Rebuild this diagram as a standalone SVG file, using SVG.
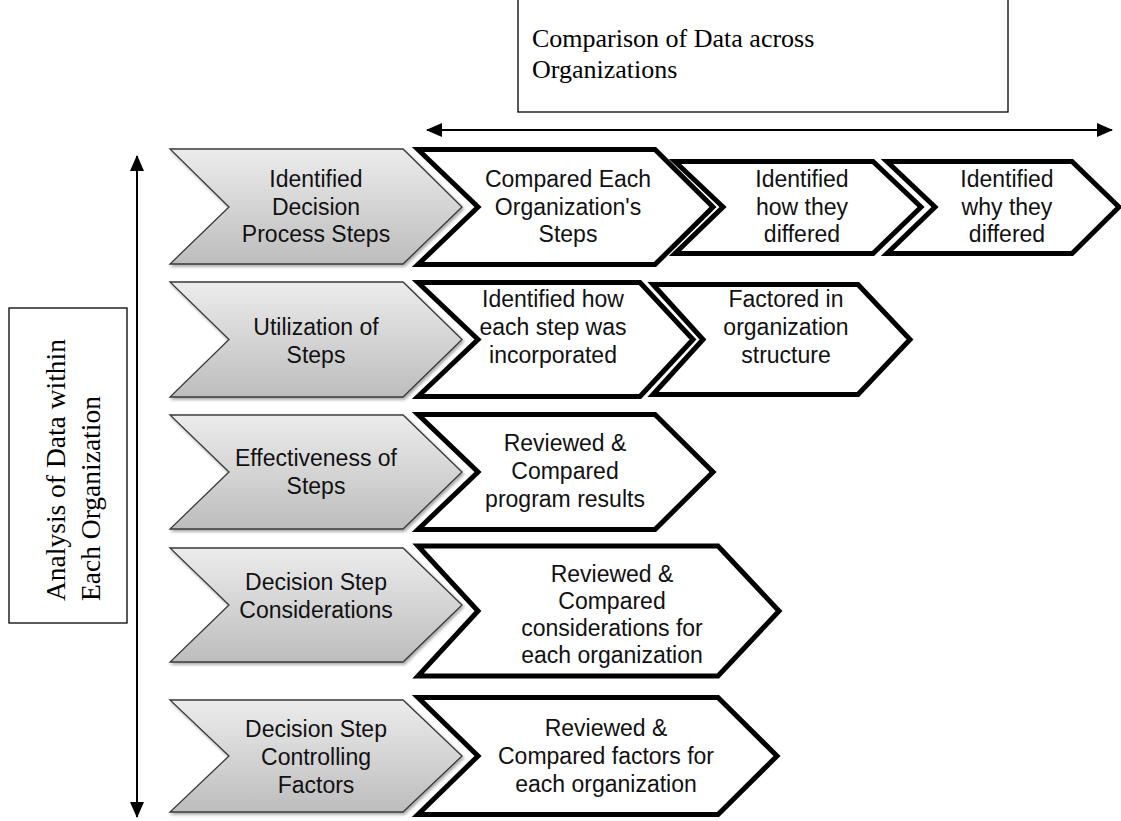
<svg xmlns="http://www.w3.org/2000/svg" width="1121" height="821" viewBox="0 0 1121 821">
<style>
.g{fill:url(#gg);stroke:#3a3a3a;stroke-width:1.3;filter:url(#sh)}
.w{fill:#fff;stroke:#000;stroke-width:5;stroke-linejoin:miter}
.t{font-family:"Liberation Sans",Arial,sans-serif;font-size:23px;fill:#111;text-anchor:middle}
.s{font-family:"Liberation Serif","Times New Roman",serif;fill:#000}
.box{fill:#fff;stroke:#000;stroke-width:1.3}
.ar{fill:none;stroke:#000;stroke-width:2}
</style>
<defs>
<linearGradient id="gg" x1="0" y1="0" x2="0" y2="1">
<stop offset="0" stop-color="#ececec"/>
<stop offset="1" stop-color="#bdbdbd"/>
</linearGradient>
<filter id="sh" x="-10%" y="-10%" width="125%" height="130%">
<feDropShadow dx="1.5" dy="2" stdDeviation="1.8" flood-color="#000" flood-opacity="0.35"/>
</filter>
<marker id="ah" markerUnits="userSpaceOnUse" markerWidth="16" markerHeight="14" viewBox="0 0 16 14" refX="15" refY="7" orient="auto-start-reverse">
<path d="M0,0 L16,7 L0,14 Z" fill="#000"/>
</marker>
</defs>
<rect width="1121" height="821" fill="#fff"/>

<g id="connectors">
<line class="ar" x1="427" y1="130" x2="1112" y2="130" marker-start="url(#ah)" marker-end="url(#ah)"/>
<line class="ar" x1="137" y1="156" x2="137" y2="817" marker-start="url(#ah)" marker-end="url(#ah)"/>
</g>

<g id="box-across">
<rect class="box" x="518" y="-2" width="490" height="114"/>
<text class="s" font-size="26" x="532" y="47">Comparison of Data across</text>
<text class="s" font-size="26" x="532" y="78">Organizations</text>
</g>

<g id="box-within">
<rect class="box" x="9" y="308" width="118" height="315"/>
<text class="s" font-size="27.5" transform="translate(65,601) rotate(-90)">Analysis of Data within</text>
<text class="s" font-size="27.5" transform="translate(100,601) rotate(-90)">Each Organization</text>
</g>

<g id="g1">
<path class="g" d="M170,149 L403,149 L462,207 L403,264 L170,264 L229,207 Z"/>
<text class="t" x="316" y="187">Identified</text>
<text class="t" x="316" y="214.5">Decision</text>
<text class="t" x="316" y="242">Process Steps</text>
</g>
<g id="g2">
<path class="g" d="M170,282 L403,282 L462,339.5 L403,397 L170,397 L229,339.5 Z"/>
<text class="t" x="316" y="335">Utilization of</text>
<text class="t" x="316" y="363">Steps</text>
</g>
<g id="g3">
<path class="g" d="M170,415 L403,415 L462,472 L403,529 L170,529 L229,472 Z"/>
<text class="t" x="316" y="466">Effectiveness of</text>
<text class="t" x="316" y="494">Steps</text>
</g>
<g id="g4">
<path class="g" d="M170,548 L403,548 L462,605 L403,662 L170,662 L229,605 Z"/>
<text class="t" x="316" y="590">Decision Step</text>
<text class="t" x="316" y="618">Considerations</text>
</g>
<g id="g5">
<path class="g" d="M170,700 L403,700 L462,756 L403,812 L170,812 L229,756 Z"/>
<text class="t" x="316" y="737">Decision Step</text>
<text class="t" x="316" y="765">Controlling</text>
<text class="t" x="316" y="793">Factors</text>
</g>

<g id="w1a">
<path class="w" d="M418,149.5 L655,149.5 L713,207 L655,264.5 L418,264.5 L478,207 Z"/>
<text class="t" x="568" y="187">Compared Each</text>
<text class="t" x="568" y="214.5">Organization's</text>
<text class="t" x="568" y="242">Steps</text>
</g>
<g id="w1b">
<path class="w" d="M675,161.5 L873,161.5 L921,207 L873,253.5 L675,253.5 L723,207 Z"/>
<text class="t" x="802" y="187">Identified</text>
<text class="t" x="802" y="214.5">how they</text>
<text class="t" x="802" y="242">differed</text>
</g>
<g id="w1c">
<path class="w" d="M887,161.5 L1072,161.5 L1119,207 L1072,253.5 L887,253.5 L935,207 Z"/>
<text class="t" x="1007" y="187">Identified</text>
<text class="t" x="1007" y="214.5">why they</text>
<text class="t" x="1007" y="242">differed</text>
</g>
<g id="w2a">
<path class="w" d="M418,282.5 L640,282.5 L693,339.5 L640,396.5 L418,396.5 L478,339.5 Z"/>
<text class="t" x="553" y="307">Identified how</text>
<text class="t" x="553" y="335">each step was</text>
<text class="t" x="553" y="363">incorporated</text>
</g>
<g id="w2b">
<path class="w" d="M653,284.5 L858,284.5 L910,339.5 L858,394.5 L653,394.5 L703,339.5 Z"/>
<text class="t" x="786" y="307">Factored in</text>
<text class="t" x="786" y="335">organization</text>
<text class="t" x="786" y="363">structure</text>
</g>
<g id="w3">
<path class="w" d="M418,414.5 L655,414.5 L713,472 L655,529.5 L418,529.5 L478,472 Z"/>
<text class="t" x="565" y="451">Reviewed &amp;</text>
<text class="t" x="565" y="479">Compared</text>
<text class="t" x="565" y="507">program results</text>
</g>
<g id="w4">
<path class="w" d="M418,546 L718,546 L779,611 L718,676 L418,676 L478,611 Z"/>
<text class="t" x="612" y="582">Reviewed &amp;</text>
<text class="t" x="612" y="609">Compared</text>
<text class="t" x="612" y="636">considerations for</text>
<text class="t" x="612" y="663">each organization</text>
</g>
<g id="w5">
<path class="w" d="M418,697.5 L718,697.5 L777,756 L718,814.5 L418,814.5 L478,756 Z"/>
<text class="t" x="606" y="736">Reviewed &amp;</text>
<text class="t" x="606" y="764">Compared factors for</text>
<text class="t" x="606" y="792">each organization</text>
</g>
</svg>
